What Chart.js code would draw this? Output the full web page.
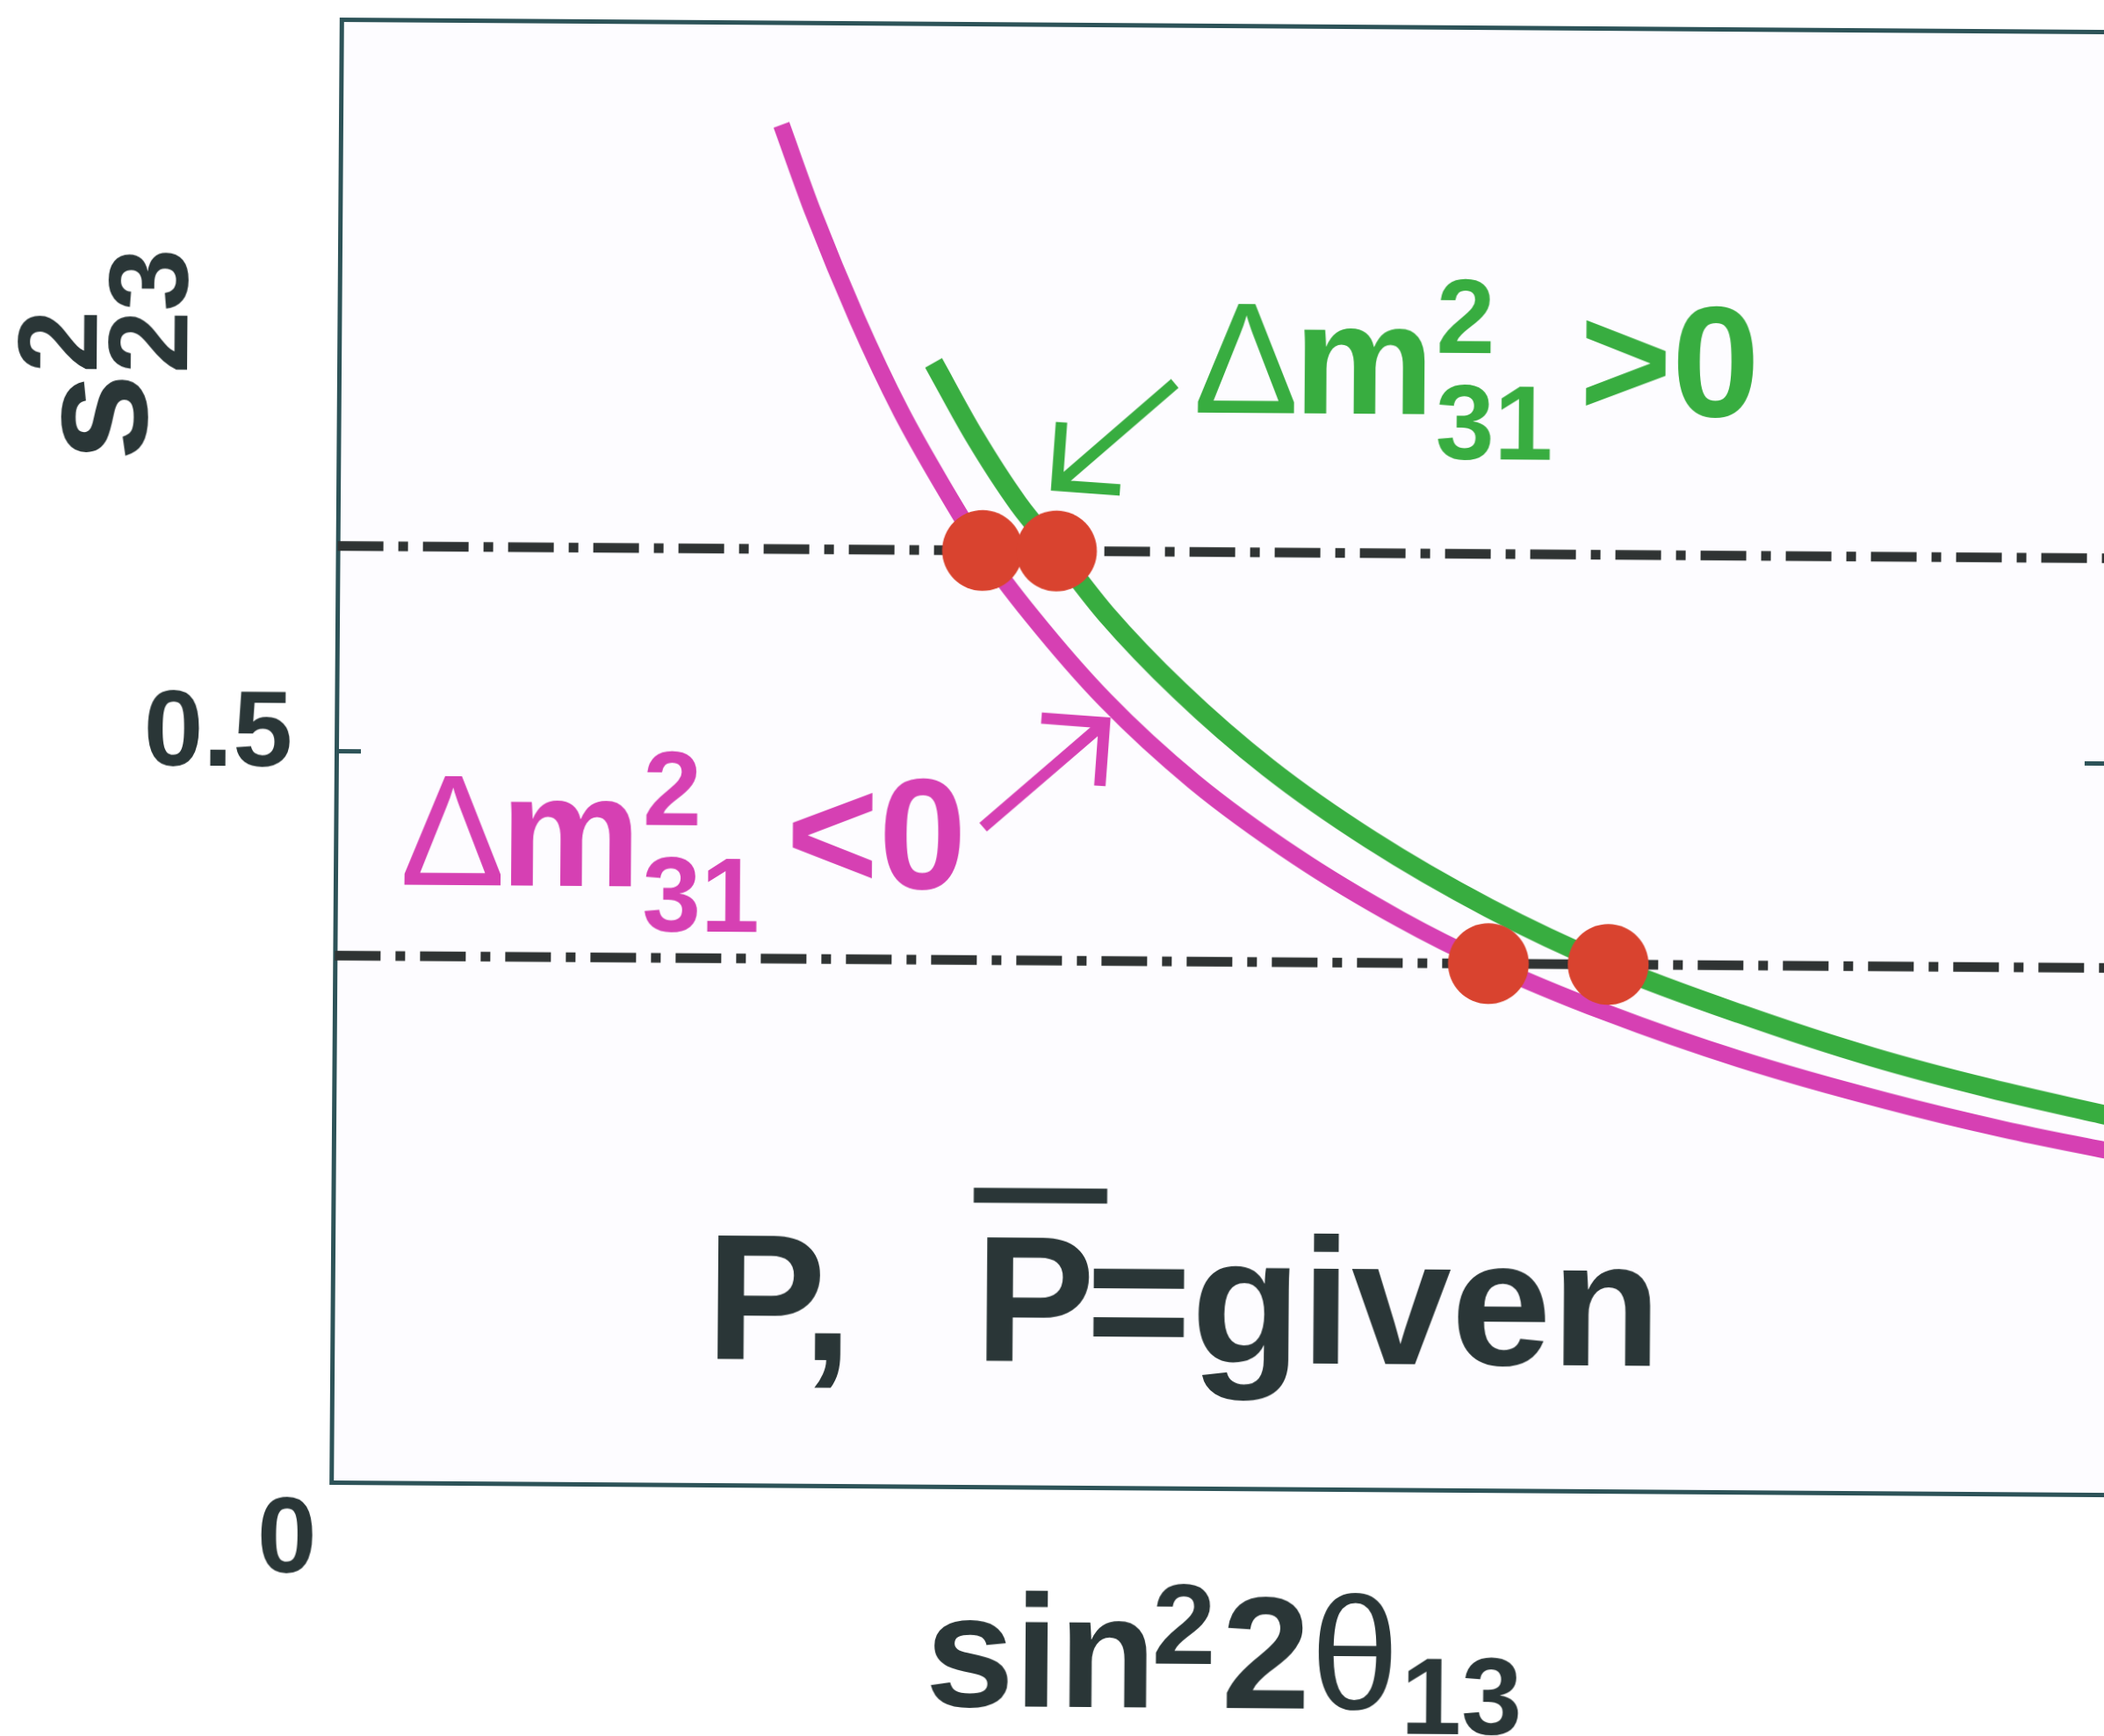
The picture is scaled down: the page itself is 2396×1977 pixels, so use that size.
<!DOCTYPE html>
<html>
<head>
<meta charset="utf-8">
<script src="https://cdn.jsdelivr.net/npm/chart.js@4.4.1/dist/chart.umd.min.js"></script>
<style>
  html, body { margin: 0; padding: 0; background: #ffffff; overflow: hidden; width: 2396px; height: 1977px; }
  #wrap { position: absolute; left: 0; top: 0; width: 2406px; height: 1977px;
          transform: rotate(0.4deg); transform-origin: 383px 855px; }
  canvas { display: block; }
</style>
</head>
<body>
<div id="wrap"><canvas id="c" width="2406" height="1977" style="width:2406px;height:1977px"></canvas></div>
<script>
// ---- data -------------------------------------------------------------
const X_MAX = 1.2;            // sin^2 2theta13, arbitrary units
const Y_MAX = 1.0;            // s^2_23
const X_TICKS = [0];
const Y_TICKS = [0.5];
const S23_LEVELS = [0.64, 0.36];   // the two octant-degenerate s^2_23 values

// Delta m^2_31 < 0 (inverted) contour
const INV_X = [0.298, 0.32, 0.35, 0.38, 0.41, 0.436, 0.47, 0.52, 0.58, 0.65, 0.72, 0.78, 0.86, 0.95, 1.05, 1.13, 1.20];
const INV_Y = [0.930, 0.870, 0.798, 0.735, 0.682, 0.640, 0.595, 0.538, 0.483, 0.432, 0.390, 0.360, 0.327, 0.296, 0.268, 0.249, 0.235];

// Delta m^2_31 > 0 (normal) contour
const NOR_X = [0.402, 0.43, 0.46, 0.486, 0.52, 0.57, 0.63, 0.70, 0.78, 0.861, 0.95, 1.04, 1.12, 1.20];
const NOR_Y = [0.768, 0.718, 0.672, 0.640, 0.597, 0.545, 0.493, 0.444, 0.398, 0.360, 0.327, 0.298, 0.277, 0.259];

// intersections of the contours with the two s^2_23 levels
const SOL_X = [0.436, 0.486, 0.780, 0.861];
const SOL_Y = [0.64, 0.64, 0.36, 0.36];

// ---- style ------------------------------------------------------------
const GREEN = '#38ad40';
const MAGENTA = '#d640b3';
const RED = '#d9432f';
const TEXT = '#2a3637';
const FRAME = '#2d5358';
const DASH = '#2f3333';
const INNER_BG = '#fdfcff';
const FAMILY = '"Liberation Sans", Arial, Helvetica, sans-serif';

// annotation anchors (data coordinates inside the plot)
const NOTES = {
  nor:  { x: 0.5777, y: 0.7353 },
  inv:  { x: 0.0435, y: 0.4088 },
  norArrow: { from: { x: 0.5652, y: 0.7551 }, to: { x: 0.4860, y: 0.6849 } },
  invArrow: { from: { x: 0.4377, y: 0.4508 }, to: { x: 0.5193, y: 0.5228 } },
  given: { x: 0.2525, y: 0.0858 },
  xTitleX: 0.4026,
  yTitleY: 0.6969
};

const pts = (xs, ys) => xs.map((x, i) => ({ x, y: ys[i] }));
const font = (size, weight) => `${weight || 'bold'} ${size}px ${FAMILY}`;

// draws a run of text pieces; a piece with sup/sub stacks both at the same x
function drawRich(ctx, x, y, parts, color) {
  ctx.save();
  ctx.fillStyle = color;
  ctx.textBaseline = 'alphabetic';
  ctx.textAlign = 'left';
  let cx = x;
  for (const p of parts) {
    cx += p.kern || 0;
    ctx.font = font(p.size, p.weight);
    if (p.sup !== undefined || p.sub !== undefined) {
      let w = 0;
      if (p.sup) { ctx.fillText(p.sup, cx, y - p.rise); w = Math.max(w, ctx.measureText(p.sup).width); }
      if (p.sub) { ctx.fillText(p.sub, cx, y + p.drop); w = Math.max(w, ctx.measureText(p.sub).width); }
      cx += w;
    } else {
      const w = ctx.measureText(p.text).width;
      ctx.fillText(p.text, cx, y - (p.rise || 0));
      if (p.bar) {
        ctx.fillRect(cx + p.bar.x0, y - p.bar.h - p.bar.t / 2, p.bar.x1 - p.bar.x0, p.bar.t);
      }
      cx += w;
    }
  }
  ctx.restore();
  return cx;
}

function drawArrow(ctx, x0, y0, x1, y1, color, head) {
  const a = Math.atan2(y0 - y1, x0 - x1);
  ctx.save();
  ctx.strokeStyle = color;
  ctx.lineWidth = 13;
  ctx.lineCap = 'butt';
  ctx.lineJoin = 'miter';
  ctx.beginPath();
  ctx.moveTo(x0, y0); ctx.lineTo(x1, y1);
  ctx.moveTo(x1 + head * Math.cos(a - Math.PI / 4), y1 + head * Math.sin(a - Math.PI / 4));
  ctx.lineTo(x1, y1);
  ctx.lineTo(x1 + head * Math.cos(a + Math.PI / 4), y1 + head * Math.sin(a + Math.PI / 4));
  ctx.stroke();
  ctx.restore();
}

const annotate = {
  id: 'annotate',
  beforeDraw(chart) {
    const { ctx, chartArea: a } = chart;
    ctx.save();
    ctx.fillStyle = INNER_BG;
    ctx.fillRect(a.left, a.top, a.right - a.left, a.bottom - a.top);
    ctx.restore();
  },
  afterDraw(chart) {
    const { ctx, chartArea: a } = chart;
    const xs = chart.scales.x, ys = chart.scales.y;
    const px = v => xs.getPixelForValue(v), py = v => ys.getPixelForValue(v);

    // Δm²31 labels
    const dmParts = (rel) => [
      { text: 'Δ', size: 180, weight: 'normal' },
      { text: 'm', size: 180, kern: -6 },
      { sup: '2', sub: '31', size: 120, rise: 70, drop: 51, kern: 2 },
      { text: ' ' + rel + '0', size: 180, kern: -20 }
    ];
    drawRich(ctx, px(NOTES.nor.x), py(NOTES.nor.y), dmParts('>'), GREEN);
    drawRich(ctx, px(NOTES.inv.x), py(NOTES.inv.y), dmParts('<'), MAGENTA);

    drawArrow(ctx, px(NOTES.norArrow.from.x), py(NOTES.norArrow.from.y),
              px(NOTES.norArrow.to.x), py(NOTES.norArrow.to.y), GREEN, 72);
    drawArrow(ctx, px(NOTES.invArrow.from.x), py(NOTES.invArrow.from.y),
              px(NOTES.invArrow.to.x), py(NOTES.invArrow.to.y), MAGENTA, 72);

    // P, P-bar = given
    drawRich(ctx, px(NOTES.given.x), py(NOTES.given.y), [
      { text: 'P,  ', size: 205 },
      { text: 'P', size: 205, kern: 25, bar: { x0: -2, x1: 150, h: 189, t: 17 } },
      { text: '=given', size: 205, kern: -10 }
    ], TEXT);

    // x-axis title
    drawRich(ctx, px(NOTES.xTitleX), a.bottom + 250, [
      { text: 'sin', size: 182 },
      { sup: '2', size: 130, rise: 50, kern: -5 },
      { text: '2', size: 182, kern: 7 },
      { text: 'θ', size: 182, weight: 'normal' },
      { sub: '13', size: 124, drop: 28, kern: 2 }
    ], TEXT);

    // y-axis title, rotated
    ctx.save();
    ctx.translate(a.left - 219, py(NOTES.yTitleY));
    ctx.rotate(-Math.PI / 2);
    drawRich(ctx, 0, 0, [
      { text: 's', size: 180 },
      { sup: '2', sub: '23', size: 128, rise: 57, drop: 46 }
    ], TEXT);
    ctx.restore();
  }
};

const tickFont = { family: FAMILY, size: 122, weight: 'bold', lineHeight: 1 };

// the frame is fixed; keep scales from asking for extra room round the plot
const noPad = s => { s.paddingTop = 0; s.paddingBottom = 0; s.paddingLeft = 0; s.paddingRight = 0; };

new Chart(document.getElementById('c'), {
  type: 'scatter',
  data: {
    datasets: [
      { label: 'solutions', data: pts(SOL_X, SOL_Y), showLine: false,
        pointRadius: 46, pointHoverRadius: 46, pointBackgroundColor: RED, pointBorderWidth: 0 },
      { label: 'Δm²31 > 0', data: pts(NOR_X, NOR_Y), showLine: true, borderColor: GREEN,
        borderWidth: 22, pointRadius: 0, cubicInterpolationMode: 'monotone', fill: false },
      { label: 'Δm²31 < 0', data: pts(INV_X, INV_Y), showLine: true, borderColor: MAGENTA,
        borderWidth: 19, pointRadius: 0, cubicInterpolationMode: 'monotone', fill: false },
      ...S23_LEVELS.map(v => ({
        label: 's²23 = ' + v, data: [{ x: 0, y: v }, { x: X_MAX, y: v }], showLine: true,
        borderColor: DASH, borderWidth: 11, borderDash: [52, 17, 11, 17], pointRadius: 0, fill: false
      }))
    ]
  },
  options: {
    responsive: false,
    devicePixelRatio: 1,
    animation: false,
    events: [],
    layout: { padding: { top: 22, right: 2, bottom: 0, left: 0 }, autoPadding: false },
    plugins: { legend: { display: false }, tooltip: { enabled: false }, title: { display: false } },
    scales: {
      x: {
        type: 'linear', position: 'bottom', min: 0, max: X_MAX,
        afterBuildTicks: s => { s.ticks = X_TICKS.map(v => ({ value: v })); },
        grid: { display: false, drawTicks: false },
        border: { display: true, color: FRAME, width: 5 },
        ticks: { font: tickFont, color: TEXT, padding: 8, labelOffset: -50, maxRotation: 0,
                 autoSkip: false, callback: v => String(v) },
        afterFit: s => { s.height = 289; noPad(s); }
      },
      xTop: {
        type: 'linear', position: 'top', min: 0, max: X_MAX,
        grid: { display: false, drawTicks: false },
        ticks: { display: false },
        border: { display: true, color: FRAME, width: 5 },
        afterFit: s => { s.height = 0; noPad(s); }
      },
      y: {
        type: 'linear', position: 'left', min: 0, max: Y_MAX,
        afterBuildTicks: s => { s.ticks = Y_TICKS.map(v => ({ value: v })); },
        grid: { display: true, drawOnChartArea: false, drawTicks: true, tickLength: -28,
                tickWidth: 5, tickColor: FRAME },
        border: { display: true, color: FRAME, width: 5 },
        ticks: { font: tickFont, color: TEXT, padding: 78, labelOffset: -16,
                 callback: v => v.toFixed(1) },
        afterFit: s => { s.width = 383; noPad(s); }
      },
      yRight: {
        type: 'linear', position: 'right', min: 0, max: Y_MAX,
        afterBuildTicks: s => { s.ticks = Y_TICKS.map(v => ({ value: v })); },
        grid: { display: true, drawOnChartArea: false, drawTicks: true, tickLength: -30,
                tickWidth: 5, tickColor: FRAME },
        border: { display: true, color: FRAME, width: 5 },
        ticks: { display: false },
        afterFit: s => { s.width = 0; noPad(s); }
      }
    }
  },
  plugins: [annotate]
});
</script>
</body>
</html>
